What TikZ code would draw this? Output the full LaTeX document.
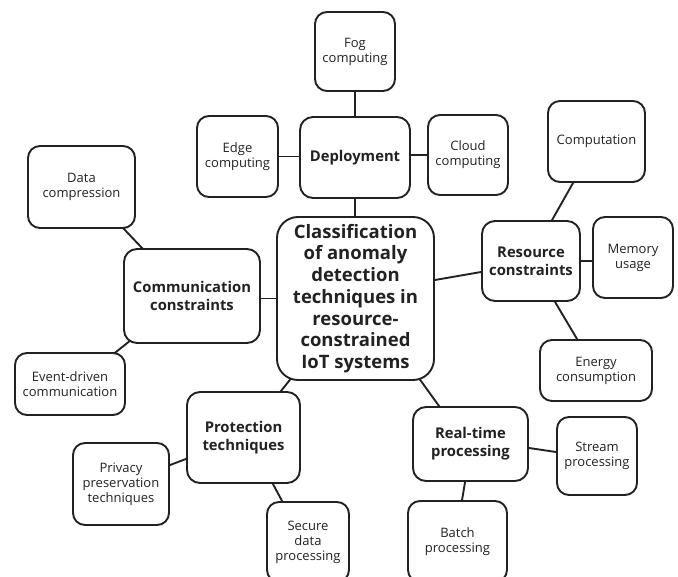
\documentclass[tikz,border=0pt]{standalone}
\usepackage{fontspec}
\setmainfont{Open Sans}
\usetikzlibrary{calc,backgrounds}
\definecolor{ink}{HTML}{222222}
\tikzset{
 box/.style={draw=ink, text=ink, line width=1.9pt, rounded corners=12pt, fill=white, align=center, inner sep=0pt, font=\fontsize{13}{15}\selectfont},
 cat/.style={box, rounded corners=13pt, font=\bfseries\fontsize{14.8}{17.7}\selectfont},
 hub/.style={box, rounded corners=21pt, font=\bfseries\fontsize{18.5}{21.7}\selectfont},
 link/.style={draw=ink, line width=1.9pt, shorten <=-6pt, shorten >=-6pt},
}
\begin{document}
\begin{tikzpicture}[x=1pt,y=-1pt]
\useasboundingbox (0,0) rectangle (678,577);
\clip (0,0) rectangle (678,577);
% centre
\node[hub, minimum width=157pt, minimum height=163pt] (central) at (355.5,298.5) {Classification\\of anomaly\\detection\\techniques in\\resource-\\constrained\\IoT systems};
% deployment
\node[cat, minimum width=110pt, minimum height=81pt] (dep) at (355,157.5) {Deployment};
\node[box, minimum width=80pt, minimum height=79pt] (fog) at (355,51.5) {Fog\\computing};
\node[box, minimum width=81pt, minimum height=81pt] (edge) at (237.5,156.5) {Edge\\computing};
\node[box, minimum width=80pt, minimum height=80pt] (cloud) at (468,155) {Cloud\\computing};
% communication
\node[cat, minimum width=136pt, minimum height=94pt] (comm) at (192,296) {Communication\\constraints};
\node[box, minimum width=107pt, minimum height=82pt] (dc) at (81.5,187) {Data\\compression};
\node[box, minimum width=110pt, minimum height=62pt] (ev) at (70,384) {Event-driven\\communication};
% resource
\node[cat, minimum width=98pt, minimum height=80pt] (res) at (531,261) {Resource\\constraints};
\node[box, minimum width=97pt, minimum height=81pt] (comp) at (596.5,141.5) {Computation};
\node[box, minimum width=80pt, minimum height=81pt] (mem) at (633,257.5) {Memory\\usage};
\node[box, minimum width=112pt, minimum height=61pt] (en) at (596,370.5) {Energy\\consumption};
% protection
\node[cat, minimum width=113pt, minimum height=91pt] (prot) at (243.5,437.5) {Protection\\techniques};
\node[box, minimum width=96pt, minimum height=82pt] (priv) at (121,484) {Privacy\\preservation\\techniques};
\node[box, minimum width=82pt, minimum height=80pt] (sec) at (308,542) {Secure\\data\\processing};
% real-time
\node[cat, minimum width=115pt, minimum height=74pt] (rt) at (470.5,444) {Real-time\\processing};
\node[box, minimum width=80pt, minimum height=78pt] (stream) at (597,456) {Stream\\processing};
\node[box, minimum width=99pt, minimum height=81pt] (batch) at (457.5,541.5) {Batch\\processing};
% connectors
\begin{scope}[on background layer]
\draw[link] (fog.south) -- (dep.north);
\draw[link] (edge.east) -- (edge.east -| dep.west);
\draw[link] (dep.east |- cloud.west) -- (cloud.west);
\draw[link] (dep.south) -- (dep.south |- central.north);
\draw[link] (central.west) -- (central.west -| comm.east);
\draw[link] ($(central.east)+(0,-18.5)$) -- ($(res.west)+(0,11)$);
\draw[link] ($(dc.south east)+(-12,0)$) -- ($(comm.north west)+(19,0)$);
\draw[link] ($(comm.south west)+(3,0)$) -- ($(ev.north east)+(-10,0)$);
\draw[link] ($(central.south west)+(13,0)$) -- ($(prot.north east)+(-20,0)$);
\draw[link] ($(central.south east)+(-14,0)$) -- ($(rt.north west)+(27,0)$);
\draw[link] ($(prot.south west)+(0,-25)$) -- ($(priv.north east)+(0,23)$);
\draw[link] ($(prot.south east)+(-28,0)$) -- ($(sec.north west)+(16,0)$);
\draw[link] ($(res.north west)+(71,0)$) -- ($(comp.south west)+(26,0)$);
\draw[link] (res.east) -- (res.east -| mem.west);
\draw[link] ($(res.south west)+(74,0)$) -- ($(en.north west)+(38,0)$);
\draw[link] ($(rt.east)+(0,4)$) -- ($(stream.west)+(0,-4)$);
\draw[link] ($(rt.south west)+(53,0)$) -- ($(batch.north west)+(55,0)$);
\end{scope}
\end{tikzpicture}
\end{document}
